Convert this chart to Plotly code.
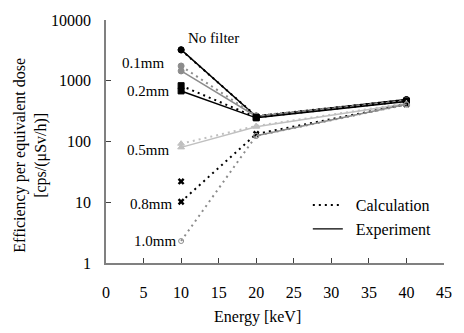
import plotly.graph_objects as go

energy = [10, 20, 40]

# Calculation (dotted) values
calc_nofilter = [3200, 262, 485]
calc_01 = [1750, 265, 475]
calc_02 = [830, 250, 465]
calc_05 = [92, 180, 425]
calc_08 = [10.2, 133, 410]
calc_10 = [2.3, 124, 405]

# Experiment (solid) values
exp_nofilter = [3250, 258, 490]
exp_01 = [1450, 258, 465]
exp_02 = [680, 245, 455]
exp_05 = [80, 175, 420]
exp_08 = [22, None, None]
exp_10 = [None, 124, 410]

labels = ["No filter", "0.1mm", "0.2mm", "0.5mm", "0.8mm", "1.0mm"]

FONT = "Liberation Serif"
BLACK = "#000000"
GRAY = "#8c8c8c"
LGRAY = "#c0c0c0"
DOT = "2px,4px"

series = [
    (calc_nofilter, exp_nofilter, BLACK, "circle"),
    (calc_01, exp_01, GRAY, "circle"),
    (calc_02, exp_02, BLACK, "square"),
    (calc_05, exp_05, LGRAY, "triangle-up"),
    (calc_08, exp_08, BLACK, "x"),
    (calc_10, exp_10, GRAY, "circle-open"),
]

fig = go.Figure()
for c, e, col, sym in series:
    if sym == "x":
        mk = dict(symbol="x", size=6, color=col)
    elif sym == "circle-open":
        mk = dict(symbol=sym, size=5, color=col, line=dict(color=col, width=1))
    else:
        mk = dict(symbol=sym, size=6, color=col, line=dict(color=col, width=1))
    fig.add_trace(go.Scatter(x=energy, y=c, mode="lines+markers",
                             line=dict(color=col, width=2, dash=DOT),
                             marker=mk, showlegend=False))
    fig.add_trace(go.Scatter(x=energy, y=e, mode="lines+markers",
                             line=dict(color=col, width=1.5),
                             marker=mk, showlegend=False))

# legend entries
fig.add_trace(go.Scatter(x=[None], y=[None], mode="lines", name="\u00a0\u00a0Calculation",
                         line=dict(color=BLACK, width=2, dash=DOT)))
fig.add_trace(go.Scatter(x=[None], y=[None], mode="lines", name="\u00a0\u00a0Experiment",
                         line=dict(color=BLACK, width=1.2)))

L, R, T, B = 106, 451, 13, 263
W, H = 464, 333


def px2paper(px, py):
    return (px - L) / (R - L), (B - py) / (B - T)


ann_px = [(188, 32), (120, 57), (125, 86), (125, 147), (128, 202), (133, 240)]
for lab, (px, py) in zip(labels, ann_px):
    ax, ay = px2paper(px, py)
    fig.add_annotation(x=ax, y=ay, xref="paper", yref="paper",
                       text=lab, showarrow=False, xanchor="left", yanchor="middle",
                       font=dict(size=15, color="black", family=FONT))

# axis titles as annotations (positioned as in the reference)
tx, ty = px2paper(261, 319)
fig.add_annotation(x=tx, y=ty, xref="paper", yref="paper", text="Energy [keV]",
                   showarrow=False, xanchor="center", yanchor="middle",
                   font=dict(size=16, color="black", family=FONT))
tx, ty = px2paper(29, 152)
fig.add_annotation(x=tx, y=ty, xref="paper", yref="paper",
                   text="Efficiency per equivalent dose<br>[cps/(μSv/h)]",
                   showarrow=False, xanchor="center", yanchor="middle", textangle=-90,
                   font=dict(size=16, color="black", family=FONT))

lx, ly = px2paper(312, 186)
fig.update_layout(
    width=W, height=H,
    margin=dict(l=L, r=W - R, t=T, b=H - B),
    paper_bgcolor="white", plot_bgcolor="white",
    font=dict(family=FONT, size=16, color="black"),
    legend=dict(x=lx, y=ly, xanchor="left", yanchor="top",
                bgcolor="rgba(0,0,0,0)", font=dict(size=16, family=FONT), tracegroupgap=0,
                itemwidth=30),
    xaxis=dict(range=[0, 45], dtick=5, tick0=0, showline=True, linecolor="#808080", linewidth=1.5,
               ticks="inside", ticklen=5, tickcolor="#404040", showgrid=False, zeroline=False,
               tickfont=dict(family=FONT, size=16), ticklabelstandoff=14),
    yaxis=dict(type="log", range=[0, 4], tickvals=[1, 10, 100, 1000, 10000],
               ticktext=["1", "10", "100", "1000", "10000"],
               showline=True, linecolor="#808080", linewidth=1.5,
               ticks="inside", ticklen=5, tickcolor="#404040", showgrid=False, zeroline=False,
               tickfont=dict(family=FONT, size=16), ticklabelstandoff=10),
)

fig.write_html("out.html")
